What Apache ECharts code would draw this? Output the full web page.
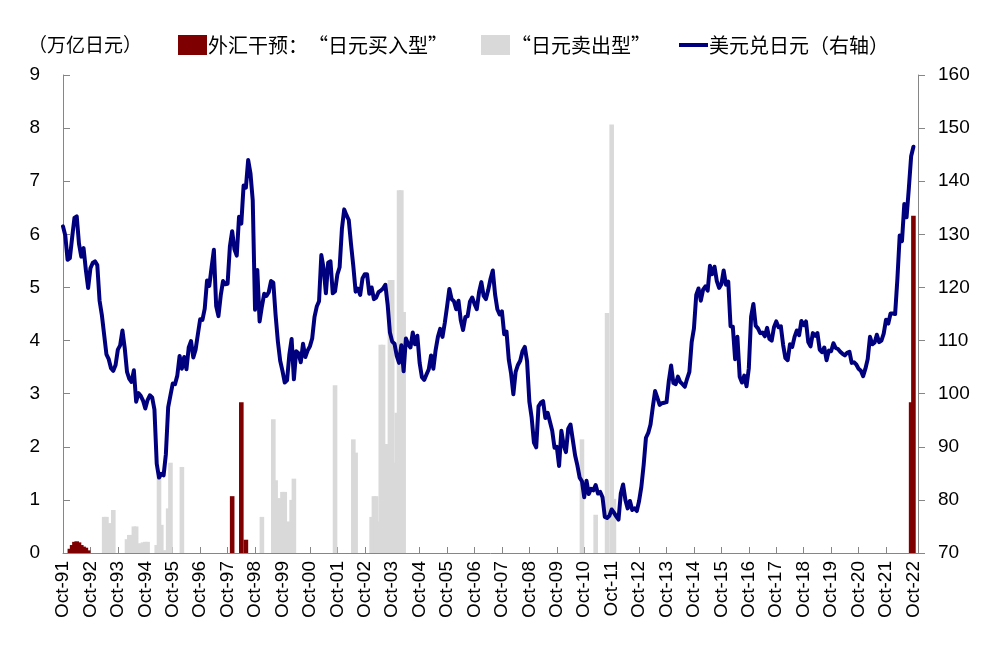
<!DOCTYPE html>
<html><head><meta charset="utf-8">
<script src="https://cdn.jsdelivr.net/npm/echarts@6/dist/echarts.min.js"></script>
<style>html,body{margin:0;padding:0;background:#fff}#c{width:995px;height:665px}</style>
</head><body><div id="c"></div>
<script>
const FONT = "'Liberation Sans','Noto Sans CJK SC',Arial,sans-serif";
const CJK = "'Noto Sans CJK SC','Liberation Sans',sans-serif";

// Month labels Oct-91 .. Dec-22 (axis categories)
const monthNames = ['Jan','Feb','Mar','Apr','May','Jun','Jul','Aug','Sep','Oct','Nov','Dec'];
const categories = [];
for (let y = 1991; y <= 2022; y++) {
  for (let m = 0; m < 12; m++) {
    if (y === 1991 && m < 9) continue;
    categories.push(monthNames[m] + '-' + String(y).slice(2));
  }
}

// USD/JPY month-end, Oct-91 .. Oct-22
const usdjpy = [
  131.5,129.8,125.2,
  125.5,129.4,133.1,133.4,128.2,125.8,127.4,123.3,119.9,123.6,124.6,124.9,
  124.2,117.5,114.8,111.1,107.4,106.5,104.8,104.3,105.4,108.3,109.1,111.9,
  108.6,104.1,102.8,102.2,104.4,98.5,100.1,99.6,98.7,97.2,98.8,99.7,
  99.3,97.0,86.8,84.2,84.9,84.6,88.6,97.4,99.7,101.9,101.8,103.4,
  107.1,104.7,106.9,104.6,108.7,109.9,106.8,108.3,111.2,114.0,113.9,116.0,
  121.3,120.3,123.8,127.1,116.5,114.6,118.5,121.2,120.6,120.7,127.7,130.6,
  127.2,126.0,133.3,132.0,139.2,138.8,144.0,141.5,136.4,115.8,123.3,113.6,
  116.4,118.8,118.4,119.1,121.2,120.9,114.8,109.8,106.2,104.3,102.1,102.5,
  107.3,110.3,102.7,108.0,107.6,105.9,109.4,106.9,108.1,108.9,110.4,114.4,
  116.4,117.4,126.1,123.6,118.9,124.7,124.9,118.9,119.3,122.4,123.8,131.0,
  134.7,133.6,132.7,128.1,124.0,119.2,119.8,118.6,121.7,122.5,122.5,118.8,
  120.0,117.8,118.1,119.1,119.4,119.8,120.5,116.8,111.5,109.8,109.4,107.1,
  105.8,109.1,104.2,110.4,109.3,108.7,111.5,109.3,110.9,105.8,103.1,102.6,
  103.6,104.6,107.2,104.7,108.2,110.7,112.2,110.7,113.3,116.4,119.7,117.8,
  117.4,115.9,117.5,113.8,112.0,114.4,114.6,117.3,118.1,116.9,115.9,119.1,
  121.0,118.4,117.8,119.5,121.6,123.2,118.7,115.9,114.9,115.5,111.2,111.7,
  106.4,103.8,99.9,104.1,105.4,106.2,108.0,108.8,106.1,98.5,95.5,90.8,
  89.9,97.6,98.3,98.6,95.4,96.4,94.7,93.0,89.8,90.0,86.4,93.0,
  90.3,89.0,93.4,94.2,91.3,88.4,86.5,84.2,83.5,80.5,83.6,81.1,
  82.1,81.8,82.8,81.2,81.5,80.5,76.8,76.6,77.0,78.2,77.6,76.9,
  76.3,81.2,82.9,80.0,78.4,79.8,78.1,78.4,77.9,79.8,82.5,86.6,
  91.7,92.6,94.2,97.5,100.5,99.2,97.9,98.2,98.3,98.4,102.4,105.3,
  102.0,101.8,103.2,102.2,101.8,101.3,102.8,104.1,109.7,112.3,118.6,119.8,
  117.5,119.6,120.2,119.4,124.1,122.5,123.9,121.2,119.9,120.6,123.2,120.5,
  121.1,112.7,112.6,106.5,110.7,103.2,102.1,103.4,101.4,104.8,114.5,116.9,
  112.8,112.3,111.4,111.5,110.8,112.4,110.3,110.0,112.5,113.6,112.5,112.7,
  109.2,106.7,106.3,109.3,108.8,110.7,111.9,111.0,113.7,112.9,113.6,109.7,
  108.9,111.4,110.9,111.4,108.3,107.8,108.7,106.3,108.1,108.0,109.5,108.6,
  108.4,107.9,107.5,107.2,107.7,107.9,105.8,105.9,105.5,104.7,104.3,103.3,
  104.7,106.5,110.7,109.3,109.6,111.1,109.7,110.0,111.3,113.9,113.2,115.1,
  115.1,115.0,121.7,129.8,128.7,135.7,133.2,138.7,144.7,146.5
];

// Intervention, trillion yen: buying yen
const buyYen = [
  ['Jan-92',0.08],['Feb-92',0.15],['Mar-92',0.21],['Apr-92',0.22],['May-92',0.20],
  ['Jun-92',0.15],['Jul-92',0.12],['Aug-92',0.10],['Sep-92',0.05],
  ['Dec-97',1.07],['Apr-98',2.84],['Jun-98',0.25],
  ['Sep-22',2.84],['Oct-22',6.35]
];
// Intervention, trillion yen: selling yen
const sellYen = [
  ['Apr-93',0.68],['May-93',0.68],['Jun-93',0.56],['Jul-93',0.56],['Aug-93',0.81],
  ['Feb-94',0.26],['Mar-94',0.34],['Apr-94',0.34],['May-94',0.50],['Jun-94',0.50],
  ['Jul-94',0.18],['Aug-94',0.18],['Sep-94',0.20],['Oct-94',0.21],['Nov-94',0.21],
  ['Mar-95',0.15],['Apr-95',1.44],['May-95',0.53],['Jun-95',0.05],['Jul-95',0.05],
  ['Aug-95',0.84],['Sep-95',1.70],['Feb-96',1.62],
  ['Jan-99',0.68],['Jun-99',2.52],['Jul-99',1.37],['Aug-99',1.03],['Sep-99',1.03],
  ['Oct-99',1.15],['Nov-99',1.15],['Dec-99',0.59],['Jan-00',0.59],['Feb-00',1.00],['Mar-00',1.40],
  ['Sep-01',3.16],['May-02',2.14],['Jun-02',1.89],
  ['Jan-03',0.68],['Feb-03',1.07],['Mar-03',1.07],['Apr-03',0.59],['May-03',3.92],['Jun-03',3.92],
  ['Jul-03',2.05],['Aug-03',2.05],['Sep-03',5.14],['Oct-03',5.14],['Nov-03',1.70],['Dec-03',2.64],
  ['Jan-04',6.83],['Feb-04',6.83],['Mar-04',4.54],
  ['Sep-10',2.14],['Mar-11',0.72],['Aug-11',4.52],['Oct-11',8.07],['Nov-11',1.02]
];

const leftTicks = {min:0, max:9, interval:1};
const rightTicks = {min:70, max:160, interval:10};

const NAME_BUY = '外汇干预：“日元买入型”';
const NAME_SELL = '“日元卖出型”';
const NAME_LINE = '美元兑日元（右轴）';

function toSeries(pairs){
  const map = new Map(pairs);
  return categories.map(c => map.has(c) ? map.get(c) : null);
}
const lineData = categories.map((c,i) => i < usdjpy.length ? usdjpy[i] : null);

function legendAt(left, item){
  return {
    left:left, top:35, padding:0, itemWidth:29, itemHeight:20,
    symbolKeepAspect:true,
    textStyle:{fontFamily:CJK, fontSize:20, color:'#000', padding:[0,0,0,-4]},
    data:[item]
  };
}

const chart = echarts.init(document.getElementById('c'), null, {renderer:'canvas'});
const axisColor = '#868686';
chart.setOption({
  animation:false,
  backgroundColor:'#ffffff',
  textStyle:{fontFamily:FONT},
  title:{text:'（万亿日元）', left:28, top:35, padding:0, textStyle:{fontFamily:CJK, fontSize:19, fontWeight:'normal', color:'#000'}},
  legend:[
    legendAt(178, {name:NAME_BUY, icon:'rect'}),
    legendAt(481, {name:NAME_SELL, icon:'rect'}),
    legendAt(679, {name:NAME_LINE, icon:'path://M0,0L29,0L29,4L0,4Z'})
  ],
  grid:{left:63, right:77, top:75, bottom:112, containLabel:false},
  xAxis:{
    type:'category', data:categories, boundaryGap:false,
    axisLine:{show:true, lineStyle:{color:axisColor, width:1}},
    axisTick:{show:true, inside:true, length:6, interval:11, lineStyle:{color:axisColor}},
    axisLabel:{rotate:90, interval:11, fontSize:19, color:'#000', margin:8, fontFamily:FONT},
    splitLine:{show:false}
  },
  yAxis:[
    {type:'value', min:leftTicks.min, max:leftTicks.max, interval:leftTicks.interval,
     axisLine:{show:true, lineStyle:{color:axisColor}},
     axisTick:{show:true, inside:true, length:7, lineStyle:{color:axisColor}},
     axisLabel:{fontSize:19, color:'#000', margin:23, fontFamily:FONT},
     splitLine:{show:false}},
    {type:'value', min:rightTicks.min, max:rightTicks.max, interval:rightTicks.interval, position:'right',
     axisLine:{show:true, lineStyle:{color:axisColor}},
     axisTick:{show:true, inside:false, length:7, lineStyle:{color:axisColor}},
     axisLabel:{fontSize:19, color:'#000', margin:20, fontFamily:FONT},
     splitLine:{show:false}}
  ],
  series:[
    {name:NAME_SELL, type:'bar', yAxisIndex:0, data:toSeries(sellYen),
     barWidth:4.6, barGap:'-100%', itemStyle:{color:'#d9d9d9'}, z:2},
    {name:NAME_BUY, type:'bar', yAxisIndex:0, data:toSeries(buyYen),
     barWidth:4.6, barGap:'-100%', itemStyle:{color:'#7f0000'}, z:2},
    {name:NAME_LINE, type:'line', yAxisIndex:1, data:lineData,
     symbol:'none', showSymbol:false, connectNulls:false,
     lineStyle:{color:'#00007f', width:4, join:'round', cap:'round'}, itemStyle:{color:'#00007f'}, z:5}
  ]
});
</script>
</body></html>
